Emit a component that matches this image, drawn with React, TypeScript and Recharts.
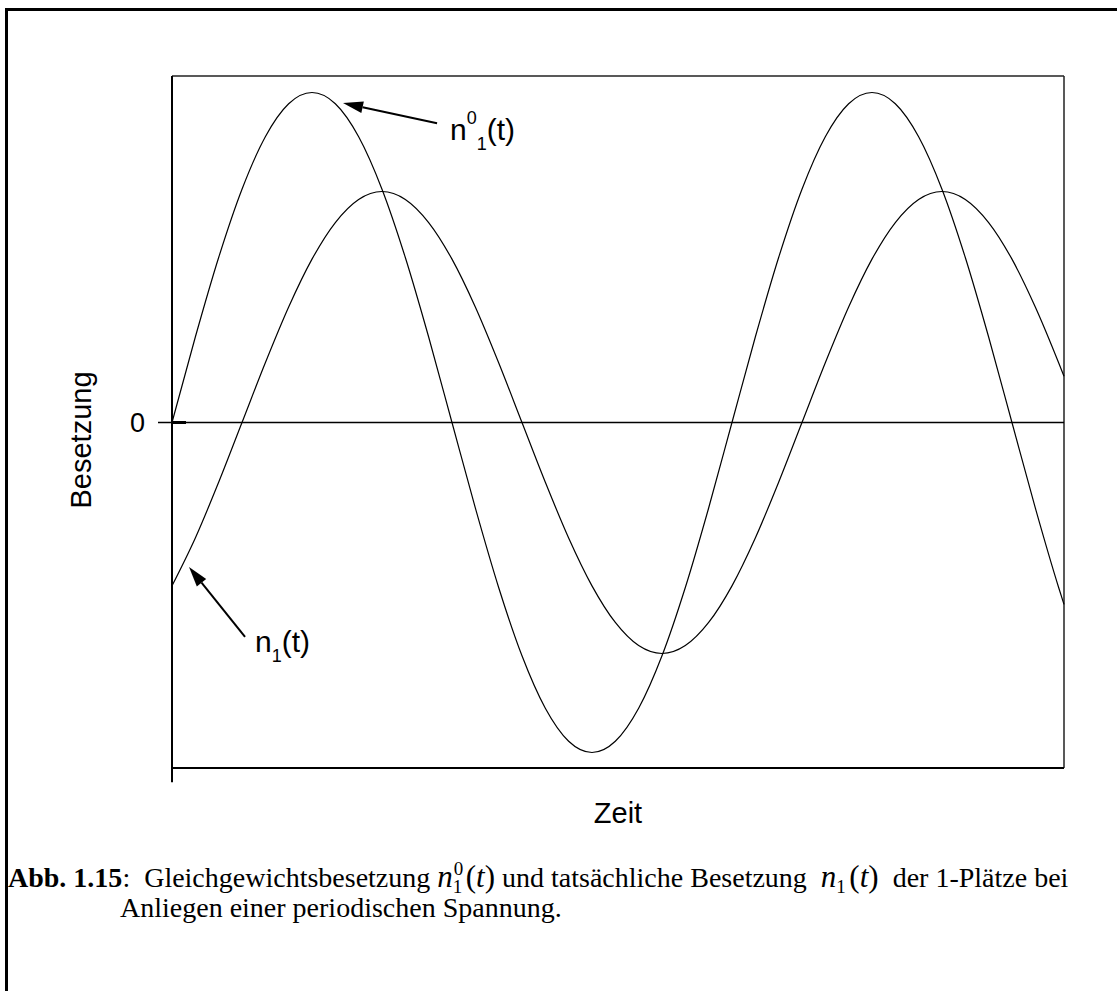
import { LineChart, Line, XAxis, YAxis, ReferenceLine } from 'recharts';

// time axis in steps of 1/24 period
const TIME = [
  0, 1, 2, 3, 4, 5, 6, 7, 8, 9, 10, 11, 12, 13, 14, 15, 16, 17, 18, 19,
  20, 21, 22, 23, 24, 25, 26, 27, 28, 29, 30, 31, 32, 33, 34, 35, 36, 37, 38, 38.23,
];

// equilibrium occupation n1^0(t)
const N_EQ = [
  0, 0.259, 0.5, 0.707, 0.866, 0.966, 1, 0.966, 0.866, 0.707,
  0.5, 0.259, 0, -0.259, -0.5, -0.707, -0.866, -0.966, -1, -0.966,
  -0.866, -0.707, -0.5, -0.259, 0, 0.259, 0.5, 0.707, 0.866, 0.966,
  1, 0.966, 0.866, 0.707, 0.5, 0.259, 0, -0.259, -0.5, -0.551,
];

// actual occupation n1(t), lagging behind
const N_ACT = [
  -0.495, -0.35, -0.181, 0, 0.181, 0.35, 0.495, 0.606, 0.676, 0.7,
  0.676, 0.606, 0.495, 0.35, 0.181, 0, -0.181, -0.35, -0.495, -0.606,
  -0.676, -0.7, -0.676, -0.606, -0.495, -0.35, -0.181, 0, 0.181, 0.35,
  0.495, 0.606, 0.676, 0.7, 0.676, 0.606, 0.495, 0.35, 0.181, 0.14,
];

const X_MAX = 38.23;
const Y_MIN = -1.047;
const Y_MAX = 1.05;

const data = TIME.map((t, i) => ({ t, eq: N_EQ[i], act: N_ACT[i] }));

const SANS = '"Liberation Sans", Arial, sans-serif';
const SERIF = '"Liberation Serif", "Times New Roman", serif';

interface LineShapeProps {
  x1?: number;
  y1?: number;
  x2?: number;
  y2?: number;
}

const arrowShape = (label: 'eq' | 'act', dx: number, dy: number) => (props: LineShapeProps) => {
  const x1 = Number(props.x1);
  const y1 = Number(props.y1);
  const x2 = Number(props.x2);
  const y2 = Number(props.y2);
  const len = Math.hypot(x2 - x1, y2 - y1) || 1;
  const ux = (x2 - x1) / len;
  const uy = (y2 - y1) / len;
  const bx = x2 - ux * 20;
  const by = y2 - uy * 20;
  const head = `${x2},${y2} ${bx - uy * 6},${by + ux * 6} ${bx + uy * 6},${by - ux * 6}`;
  return (
    <g>
      <line x1={x1} y1={y1} x2={bx} y2={by} stroke="#000" strokeWidth={2} />
      <polygon points={head} fill="#000" />
      <text x={x1 + dx} y={y1 + dy} fontFamily={SANS} fontSize={30} fill="#000">
        n
        {label === 'eq' ? (
          <>
            <tspan dy={-16} fontSize={18}>0</tspan>
            <tspan dy={26} fontSize={18}>1</tspan>
            <tspan dy={-10}>(t)</tspan>
          </>
        ) : (
          <>
            <tspan dy={10} fontSize={18}>1</tspan>
            <tspan dy={-10}>(t)</tspan>
          </>
        )}
      </text>
    </g>
  );
};

const Math1 = ({ sup }: { sup?: string }) => (
  <span style={{ fontSize: 31 }}>
    <i>n</i>
    <span style={{ position: 'relative', display: 'inline-block', width: 13, fontSize: 19, lineHeight: '16px' }}>
      {sup ? <span style={{ position: 'absolute', left: 1, top: -12 }}>{sup}</span> : null}
      <span style={{ position: 'relative', top: 6 }}>1</span>
    </span>
    (<i>t</i>)
  </span>
);

export default function App() {
  return (
    <div style={{ position: 'absolute', left: 0, top: 0, width: 1117, height: 991, overflow: 'hidden', background: '#fff' }}>
      <div
        style={{
          position: 'absolute',
          left: 5,
          top: 8,
          width: 1200,
          height: 1100,
          borderLeft: '3px solid #000',
          borderTop: '3px solid #000',
        }}
      />
      <div style={{ position: 'absolute', left: 0, top: 0 }}>
        <LineChart width={1117} height={991} data={data} margin={{ top: 76, right: 53, bottom: 223, left: 172 }}>
          <XAxis dataKey="t" type="number" domain={[0, X_MAX]} hide />
          <YAxis type="number" domain={[Y_MIN, Y_MAX]} hide />

          <ReferenceLine y={Y_MAX} stroke="#222" strokeWidth={1.5} />
          <ReferenceLine x={X_MAX} stroke="#222" strokeWidth={1.5} />
          <ReferenceLine
            y={Y_MIN}
            stroke="#000"
            strokeWidth={2}
            label={{ value: 'Zeit', position: 'bottom', offset: 34, fontFamily: SANS, fontSize: 29, fill: '#000' }}
          />
          <ReferenceLine
            segment={[{ x: -0.6, y: 0 }, { x: X_MAX, y: 0 }]}
            ifOverflow="visible"
            stroke="#000"
            strokeWidth={1.5}
            label={{ value: '0', position: 'left', offset: 13, fontFamily: SANS, fontSize: 27, fill: '#000' }}
          />
          <ReferenceLine segment={[{ x: 0, y: 0 }, { x: 0.6, y: 0 }]} ifOverflow="visible" stroke="#000" strokeWidth={3} />
          <ReferenceLine
            segment={[{ x: 0, y: -1.09 }, { x: 0, y: Y_MAX }]}
            ifOverflow="visible"
            stroke="#000"
            strokeWidth={2}
          />

          <Line dataKey="eq" type="monotone" stroke="#000" strokeWidth={1.2} dot={false} isAnimationActive={false} />
          <Line dataKey="act" type="monotone" stroke="#000" strokeWidth={1.2} dot={false} isAnimationActive={false} />

          <ReferenceLine
            segment={[{ x: 11.36, y: 0.907 }, { x: 7.33, y: 0.968 }]}
            ifOverflow="visible"
            shape={arrowShape('eq', 13, 17)}
          />
          <ReferenceLine
            segment={[{ x: 3.13, y: -0.65 }, { x: 0.73, y: -0.438 }]}
            ifOverflow="visible"
            shape={arrowShape('act', 10, 15)}
          />
        </LineChart>
      </div>

      <div
        style={{
          position: 'absolute',
          left: 81,
          top: 440,
          transform: 'translate(-50%, -50%) rotate(-90deg)',
          fontFamily: SANS,
          fontSize: 29,
          lineHeight: '30px',
          whiteSpace: 'nowrap',
        }}
      >
        Besetzung
      </div>

      <div
        style={{
          position: 'absolute',
          left: 8,
          top: 862,
          fontFamily: SERIF,
          fontSize: 28,
          lineHeight: '30px',
          whiteSpace: 'nowrap',
          color: '#000',
        }}
      >
        <div style={{ height: 31 }}>
          <b>Abb. 1.15</b>:&nbsp; Gleichgewichtsbesetzung <Math1 sup="0" /> und tatsächliche Besetzung&nbsp;{' '}
          <Math1 />
          &nbsp; der 1-Plätze bei
        </div>
        <div style={{ paddingLeft: 112 }}>Anliegen einer periodischen Spannung.</div>
      </div>
    </div>
  );
}
